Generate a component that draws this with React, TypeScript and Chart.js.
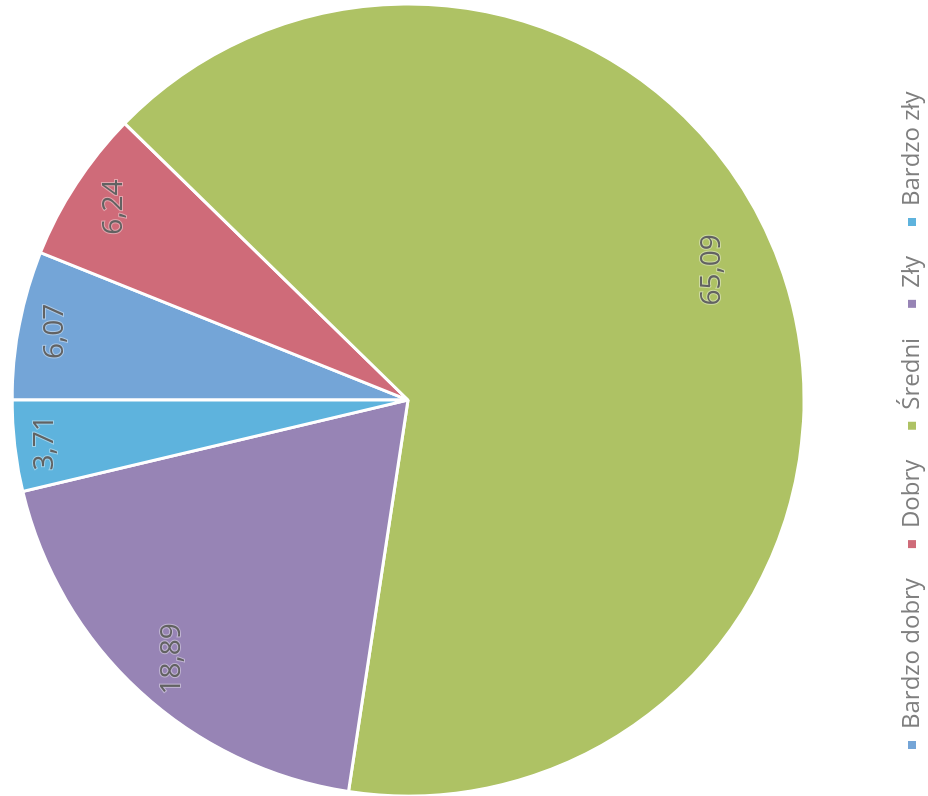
import React, { useEffect, useRef } from "react";
import { Chart, registerables } from "chart.js";

Chart.register(...registerables);

const categories = ["Bardzo dobry", "Dobry", "Średni", "Zły", "Bardzo zły"];
const values = [6.07, 6.24, 65.09, 18.89, 3.71];
const colors = ["#74a5d7", "#cf6b79", "#aec264", "#9784b5", "#5eb3dd"];

// upright drawing size (the page shows it turned a quarter turn to the left)
const W = 796;
const H = 988;
const SHIFT = 54;

const sliceLabels = {
  id: "sliceLabels",
  afterDatasetsDraw(chart: any, _args: any, opts: any) {
    const ctx = chart.ctx as CanvasRenderingContext2D;
    const meta = chart.getDatasetMeta(0);
    ctx.save();
    ctx.font = `${opts.size}px ${opts.family}`;
    ctx.textAlign = "center";
    ctx.textBaseline = "alphabetic";
    meta.data.forEach((arc: any, i: number) => {
      const p = arc.getProps(["x", "y", "startAngle", "endAngle", "outerRadius"], true);
      const mid = (p.startAngle + p.endAngle) / 2 + (opts.angleShifts[i] * Math.PI) / 180;
      const text = values[i].toFixed(2).replace(".", ",");
      const w = ctx.measureText(text).width;
      const h = opts.size * 0.72;
      const ext = Math.abs(Math.cos(mid)) * w / 2 + Math.abs(Math.sin(mid)) * h / 2;
      const r = p.outerRadius - opts.insets[i] - ext;
      const lx = p.x + Math.cos(mid) * r;
      const ly = p.y + Math.sin(mid) * r + h / 2;
      ctx.lineWidth = 2;
      ctx.strokeStyle = "rgba(255,255,255,0.4)";
      ctx.strokeText(text, lx, ly);
      ctx.fillStyle = opts.color;
      ctx.fillText(text, lx, ly);
    });
    ctx.restore();
  },
};

export default function App() {
  const ref = useRef<HTMLCanvasElement | null>(null);

  useEffect(() => {
    document.documentElement.style.overflow = "hidden";
    document.body.style.overflow = "hidden";
    if (!ref.current) return;
    const chart = new Chart(ref.current, {
      type: "pie",
      data: {
        labels: categories,
        datasets: [
          {
            data: values,
            backgroundColor: colors,
            borderColor: "#ffffff",
            borderWidth: 3,
            hoverOffset: 0,
            radius: 396,
            clip: false,
          } as any,
        ],
      },
      options: {
        responsive: false,
        animation: false,
        events: [],
        layout: { padding: { top: 0, bottom: 0, left: 17, right: 21 } },
        plugins: {
          tooltip: { enabled: false },
          legend: {
            position: "bottom",
            align: "start",
            labels: {
              font: { family: "'Open Sans', sans-serif", size: 24 },
              color: "#7f7f7f",
              boxWidth: 8,
              boxHeight: 8,
              padding: 30,
              generateLabels: () =>
                categories.map((c, i) => ({
                  text: c,
                  fillStyle: colors[i],
                  strokeStyle: colors[i],
                  lineWidth: 0,
                  hidden: false,
                  index: i,
                  fontColor: "#7f7f7f",
                })),
            },
          },
          sliceLabels: {
            family: "'Open Sans', sans-serif",
            size: 28,
            color: "#626262",
            insets: [19, 19, 44, 11, 15],
            angleShifts: [0, 0, -4.8, 0, 0],
          },
        } as any,
      },
      plugins: [sliceLabels],
    });
    return () => chart.destroy();
  }, []);

  return (
    <div
      style={{
        position: "absolute",
        left: 0,
        top: 0,
        width: W,
        height: H,
        transform: `translate(${-SHIFT}px, ${W}px) rotate(-90deg)`,
        transformOrigin: "0 0",
        background: "#ffffff",
      }}
    >
      <canvas ref={ref} width={W} height={H} style={{ display: "block" }} />
    </div>
  );
}
